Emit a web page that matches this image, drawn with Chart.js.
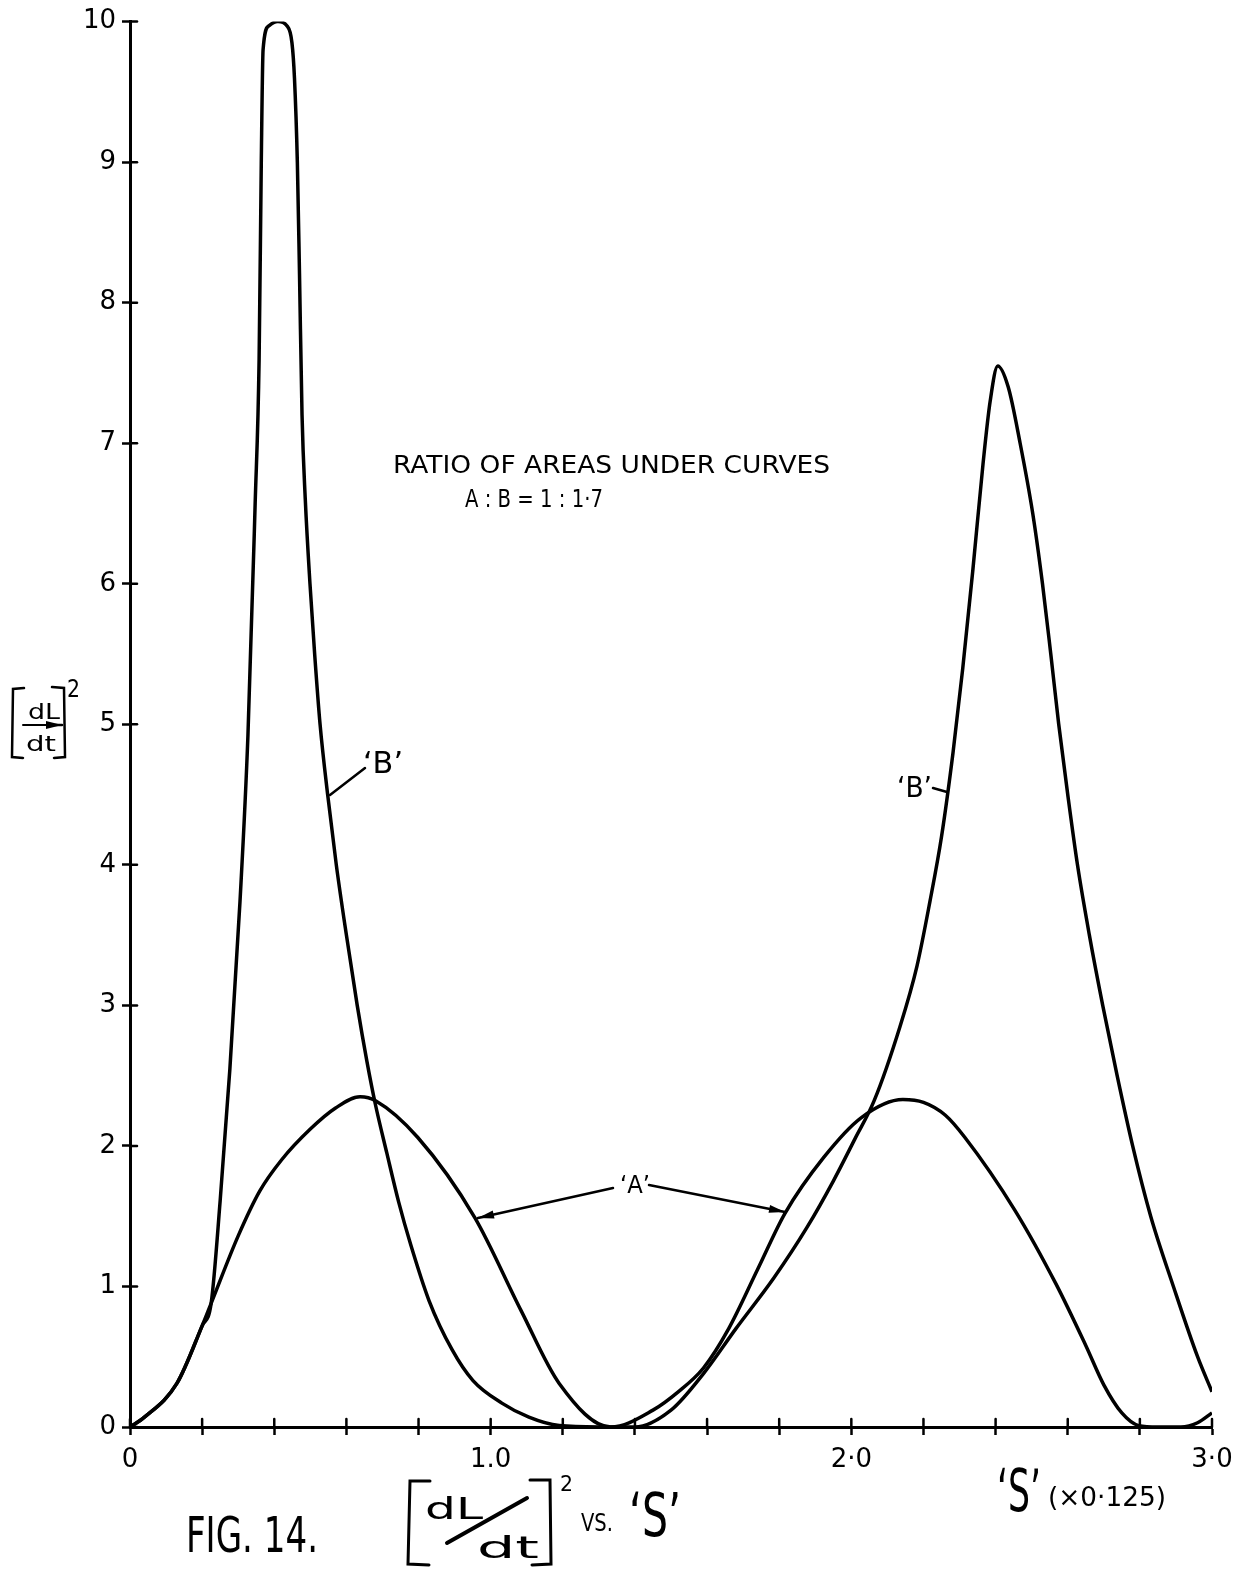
<!DOCTYPE html>
<html>
<head>
<meta charset="utf-8">
<script src="https://cdn.jsdelivr.net/npm/chart.js@4.4.1/dist/chart.umd.min.js"></script>
<style>
  html, body { margin: 0; padding: 0; background: #fff; }
  #wrap { width: 1251px; height: 1571px; }
</style>
</head>
<body>
<div id="wrap"><canvas id="fig" width="1251" height="1571"></canvas></div>
<script>
// curve 'A'
const aX = [0, 0.04, 0.13, 0.2, 0.225, 0.3, 0.36, 0.42, 0.5, 0.57, 0.638, 0.682, 0.798, 0.956,
  1.084, 1.19, 1.333, 1.45, 1.52, 1.59, 1.66, 1.74, 1.816, 1.924, 2.027, 2.143, 2.2, 2.26,
  2.315, 2.454, 2.567, 2.65, 2.7, 2.75, 2.797, 2.85, 2.914, 2.96, 3.0];
const aY = [0, 0.07, 0.31, 0.72, 0.88, 1.36, 1.68, 1.9, 2.12, 2.27, 2.35, 2.32, 2.06, 1.49,
  0.83, 0.31, 0, 0.12, 0.25, 0.42, 0.7, 1.12, 1.52, 1.92, 2.2, 2.33, 2.31, 2.22,
  2.06, 1.54, 1.02, 0.58, 0.3, 0.1, 0.01, 0, 0, 0.03, 0.1];

// curve 'B' (follows 'A' up to about 0.22)
const bX = [0, 0.04, 0.13, 0.2, 0.225,
  0.25, 0.277, 0.305, 0.327, 0.347, 0.358, 0.364, 0.369, 0.385, 0.41, 0.435, 0.449,
  0.456, 0.464, 0.47, 0.477, 0.486, 0.499, 0.512, 0.527, 0.548, 0.572, 0.6, 0.63, 0.657,
  0.68, 0.712, 0.745, 0.778, 0.829, 0.893, 0.951, 1.031, 1.106, 1.19, 1.3, 1.4,
  1.5, 1.59, 1.68, 1.785, 1.877, 1.95, 2.01, 2.063, 2.135, 2.182, 2.218, 2.25, 2.282,
  2.309, 2.337, 2.365, 2.385, 2.406,
  2.435, 2.468, 2.503, 2.53, 2.553, 2.575, 2.6, 2.627, 2.66, 2.697, 2.737, 2.78, 2.83,
  2.893, 2.96, 3.0];
const bY = [0, 0.07, 0.31, 0.72, 0.88,
  1.61, 2.55, 3.74, 4.92, 6.57, 7.6, 9.0, 9.8, 9.97, 10.0, 9.97, 9.85,
  9.6, 9.0, 8.2, 7.2, 6.6, 6.0, 5.5, 5.0, 4.5, 4.0, 3.5, 3.0, 2.6,
  2.3, 1.95, 1.6, 1.3, 0.9, 0.55, 0.33, 0.17, 0.07, 0.01, 0, 0,
  0.12, 0.38, 0.7, 1.06, 1.42, 1.75, 2.05, 2.32, 2.85, 3.28, 3.74, 4.2, 4.8,
  5.4, 6.1, 6.85, 7.3, 7.55,
  7.4, 7.0, 6.5, 6.0, 5.5, 5.0, 4.5, 4.0, 3.5, 3.0, 2.5, 2.0, 1.5,
  1.0, 0.5, 0.25];

// axis ticks
const xMin = 0, xMax = 3, xStep = 0.2;
const yMin = 0, yMax = 10, yStep = 1;
const xLabelValues = [0, 1, 2, 3];
const xLabelTexts = ['0', '1.0', '2·0', '3·0'];

const toPoints = (xs, ys) => xs.map((v, i) => ({ x: v, y: ys[i] }));

const FONT = '"DejaVu Sans", sans-serif';

function fitText(ctx, s, x, base, w, size) {
  ctx.font = `${size}px ${FONT}`;
  const m = ctx.measureText(s).width;
  ctx.save();
  ctx.translate(x, base);
  ctx.scale(w / m, 1);
  ctx.textAlign = 'left';
  ctx.textBaseline = 'alphabetic';
  ctx.fillText(s, 0, 0);
  ctx.restore();
}

function seg(ctx, pts, w) {
  ctx.lineWidth = w;
  ctx.beginPath();
  ctx.moveTo(pts[0][0], pts[0][1]);
  for (let i = 1; i < pts.length; i++) ctx.lineTo(pts[i][0], pts[i][1]);
  ctx.stroke();
}

function arrow(ctx, x0, y0, x1, y1) {
  seg(ctx, [[x0, y0], [x1, y1]], 2.5);
  const a = Math.atan2(y1 - y0, x1 - x0);
  const L = 16, W = 4;
  ctx.beginPath();
  ctx.moveTo(x1, y1);
  ctx.lineTo(x1 - L * Math.cos(a) + W * Math.sin(a), y1 - L * Math.sin(a) - W * Math.cos(a));
  ctx.lineTo(x1 - L * Math.cos(a) - W * Math.sin(a), y1 - L * Math.sin(a) + W * Math.cos(a));
  ctx.closePath();
  ctx.fill();
}

const decorations = {
  id: 'decorations',
  afterDraw(chart) {
    const { ctx, scales: { x, y } } = chart;
    ctx.save();
    ctx.strokeStyle = '#000';
    ctx.fillStyle = '#000';
    ctx.lineCap = 'round';

    // inner half of the crossing tick marks
    x.ticks.forEach(t => {
      const px = x.getPixelForValue(t.value);
      seg(ctx, [[px, y.bottom], [px, y.bottom - 8]], 2.5);
    });
    y.ticks.forEach(t => {
      const py = y.getPixelForValue(t.value);
      seg(ctx, [[x.left, py], [x.left + 7, py]], 2.5);
    });

    // notes
    fitText(ctx, 'RATIO OF AREAS UNDER CURVES', 393, 473, 437, 24);
    fitText(ctx, 'A : B = 1 : 1·7', 465, 507, 138, 24);

    // 'A' with arrows
    fitText(ctx, '‘A’', 620, 1193, 30, 24);
    arrow(ctx, 613, 1188, 478, 1218);
    arrow(ctx, 649, 1185, 785, 1212);

    // 'B' labels with leaders
    fitText(ctx, '‘B’', 363, 773, 40, 30);
    seg(ctx, [[330, 795], [365, 768]], 2.5);
    fitText(ctx, '‘B’', 897, 797, 35, 28);
    seg(ctx, [[933, 788], [947, 792]], 2.5);

    // y-axis title  [dL/dt]^2
    seg(ctx, [[24, 688], [13, 689], [12, 757], [23, 758]], 2.5);
    seg(ctx, [[52, 687], [64, 688], [65, 757], [54, 758]], 2.5);
    fitText(ctx, 'dL', 28, 719, 32, 22);
    seg(ctx, [[23, 725], [60, 725]], 2);
    arrow(ctx, 50, 725, 62, 725);
    fitText(ctx, 'dt', 26, 751, 30, 22);
    fitText(ctx, '2', 67, 697, 13, 24);

    // caption
    fitText(ctx, 'FIG. 14.', 186, 1552, 132, 50);
    seg(ctx, [[430, 1481], [410, 1481], [408, 1564], [429, 1565]], 3);
    seg(ctx, [[530, 1480], [550, 1480], [551, 1564], [532, 1565]], 3);
    fitText(ctx, 'dL', 425, 1519, 58, 30);
    seg(ctx, [[447, 1543], [527, 1498]], 4);
    fitText(ctx, 'dt', 477, 1558, 62, 30);
    fitText(ctx, '2', 560, 1491, 13, 22);
    fitText(ctx, 'VS.', 581, 1531, 32, 24);
    fitText(ctx, '‘S’', 629, 1536, 52, 60);

    // x-axis title
    fitText(ctx, '‘S’', 997, 1511, 44, 58);
    fitText(ctx, '(×0·125)', 1048, 1506, 118, 26);

    ctx.restore();
  }
};

const lineStyle = {
  borderColor: '#000',
  borderWidth: 3.5,
  pointRadius: 0,
  fill: false,
  cubicInterpolationMode: 'monotone',
  showLine: true
};

new Chart(document.getElementById('fig'), {
  type: 'line',
  data: {
    datasets: [
      { label: "'A'", data: toPoints(aX, aY), ...lineStyle },
      { label: "'B'", data: toPoints(bX, bY), ...lineStyle }
    ]
  },
  options: {
    responsive: false,
    animation: false,
    events: [],
    layout: { padding: { left: 0, top: 18, right: 39, bottom: 0 } },
    plugins: { legend: { display: false }, tooltip: { enabled: false } },
    scales: {
      x: {
        type: 'linear',
        min: xMin,
        max: xMax,
        afterFit: s => { s.height = 144; },
        border: { display: true, color: '#000', width: 3 },
        grid: { drawOnChartArea: false, drawTicks: true, tickLength: 8, tickWidth: 2.5, tickColor: '#000' },
        ticks: {
          stepSize: xStep,
          autoSkip: false,
          maxRotation: 0,
          padding: 10,
          color: '#000',
          font: { family: FONT, size: 26 },
          callback: v => {
            const i = xLabelValues.findIndex(k => Math.abs(k - v) < 1e-6);
            return i >= 0 ? xLabelTexts[i] : '';
          }
        }
      },
      y: {
        min: yMin,
        max: yMax,
        afterFit: s => { s.width = 130; },
        border: { display: true, color: '#000', width: 3 },
        grid: { drawOnChartArea: false, drawTicks: true, tickLength: 8, tickWidth: 2.5, tickColor: '#000' },
        ticks: {
          stepSize: yStep,
          padding: 6,
          color: '#000',
          font: { family: FONT, size: 26 }
        }
      }
    }
  },
  plugins: [decorations]
});
</script>
</body>
</html>
